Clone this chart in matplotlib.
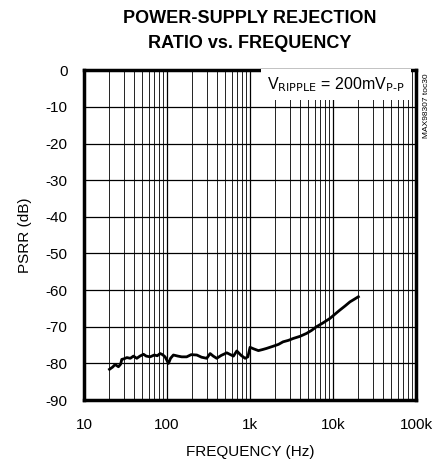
import matplotlib.pyplot as plt
import numpy as np
from matplotlib.ticker import FixedLocator, NullFormatter

plt.rcParams['font.family'] = ['Liberation Sans', 'DejaVu Sans']

# PSRR curve
freq_hz = [20.2, 22.0, 23.6, 25.9, 27.5, 28.4, 30.5, 32.7, 36.0, 39.3, 43.1, 47.0, 51.9,
           56.0, 62.4, 70.0, 76.0, 82.4, 88.0, 94.5, 103.8, 110.0, 119.0, 135.0, 150.0,
           172.0, 195.0, 228.0, 260.0, 300.0, 330.0, 360.0, 396.0, 450.0, 524.0, 580.0,
           630.0, 692.0, 780.0, 871.0, 940.0, 1000.0, 1100.0, 1260.0, 1420.0, 1580.0,
           1900.0, 2200.0, 2500.0, 2900.0, 3300.0, 4000.0, 4800.0, 5500.0, 6300.0,
           7500.0, 9200.0, 10500.0, 12000.0, 14000.0, 16000.0, 18000.0, 20200.0]
psrr_db = [-81.6, -81.0, -80.3, -80.9, -80.2, -78.9, -78.7, -78.4, -78.6, -78.0, -78.6,
           -78.0, -77.5, -78.0, -78.2, -77.7, -77.9, -77.3, -77.6, -78.2, -80.0, -78.6,
           -77.7, -78.0, -78.2, -78.2, -77.6, -77.7, -78.3, -78.6, -77.3, -78.0, -78.6,
           -77.8, -77.1, -77.6, -78.0, -76.6, -77.8, -78.6, -78.2, -75.6, -76.0, -76.5,
           -76.2, -75.9, -75.3, -74.8, -74.1, -73.7, -73.2, -72.6, -71.8, -71.0, -70.0,
           -69.0, -67.7, -66.6, -65.5, -64.3, -63.2, -62.5, -61.8]

x_ticks = [10, 100, 1000, 10000, 100000]
x_tick_labels = ['10', '100', '1k', '10k', '100k']
y_ticks = list(range(0, -100, -10))

fig = plt.figure(figsize=(4.43, 4.62), dpi=100)
ax = fig.add_axes([0.190, 0.134, 0.749, 0.714])

ax.set_xscale('log')
ax.set_xlim(10, 100000)
ax.set_ylim(-90, 0)

ax.xaxis.set_major_locator(FixedLocator(x_ticks))
ax.set_xticklabels(x_tick_labels)
minor = [m * d for d in [10, 100, 1000, 10000] for m in range(2, 10)]
ax.xaxis.set_minor_locator(FixedLocator(minor))
ax.xaxis.set_minor_formatter(NullFormatter())
ax.set_yticks(y_ticks)
ax.set_yticklabels([str(v) for v in y_ticks])

ax.grid(which='major', axis='both', color='black', linewidth=0.9)
ax.grid(which='minor', axis='x', color='#222222', linewidth=0.7)
ax.tick_params(which='both', length=0, labelsize=11)
ax.tick_params(axis='y', pad=12)
ax.tick_params(axis='x', pad=13)

for sp in ax.spines.values():
    sp.set_linewidth(2.5)

ax.plot(freq_hz, psrr_db, color='black', linewidth=2.0, zorder=3)

ax.set_xlabel('FREQUENCY (Hz)', fontsize=11, labelpad=9)
ax.set_ylabel('PSRR (dB)', fontsize=11, labelpad=10)

fig.text(0.564, 0.933, 'POWER-SUPPLY REJECTION\nRATIO vs. FREQUENCY', ha='center', va='center',
         fontsize=13, fontweight='bold', linespacing=1.55)

ax.text(0.965, 0.985, r'V$_{\mathrm{RIPPLE}}$ = 200mV$_{\mathrm{P\text{-}P}}$',
        transform=ax.transAxes, ha='right', va='top', fontsize=11.5,
        bbox=dict(boxstyle='square,pad=0.4', facecolor='white', edgecolor='none'),
        zorder=5)

fig.text(0.962, 0.842, 'MAX98307 toc30', rotation=90, ha='center', va='top', fontsize=6)

fig.savefig('out.png', dpi=100)
